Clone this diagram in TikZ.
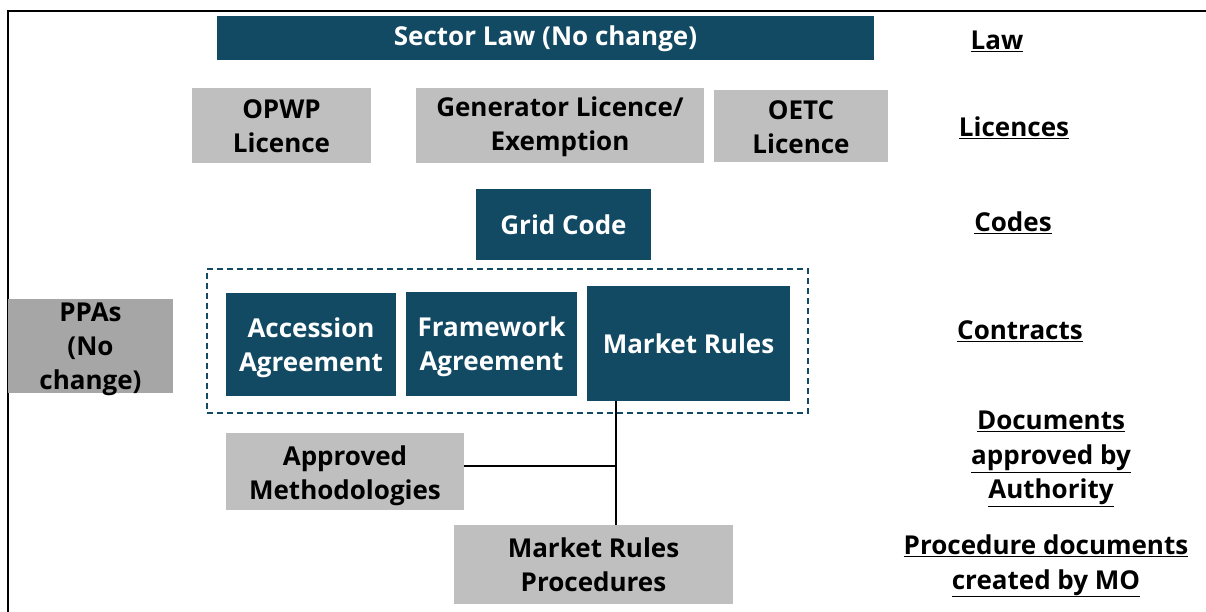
\documentclass[tikz,border=0pt]{standalone}
\usepackage{fontspec}
\setmainfont{Open Sans}[UprightFont=* Bold]
\definecolor{teal1}{HTML}{134A63}
\definecolor{grayA}{HTML}{BFBFBF}
\definecolor{grayB}{HTML}{A6A6A6}
\begin{document}
\begin{tikzpicture}[x=1pt,y=-1pt,
  box/.style={rectangle, inner sep=0pt},
  txt/.style={align=center, inner sep=0pt, font=\fontsize{26}{34}\selectfont, yshift=-3pt},
  wtxt/.style={txt, text=white},
  darkbox/.style={box, fill=teal1},
  graybox/.style={box, fill=grayA},
  ppabox/.style={box, fill=grayB},
  lvl/.style={align=center, inner sep=0pt, font=\fontsize{26}{34.5}\selectfont},
  conn/.style={draw=black, line width=1.3pt}]
\useasboundingbox (0,0) rectangle (1206,612);
\fill[white] (0,0) rectangle (1206,612);
\draw[line width=1.5pt] (8,612) -- (8,11) -- (1206,11);
\coordinate (j) at (616,466);
\node[darkbox, minimum width=657pt, minimum height=44pt, label={[wtxt, yshift=2pt]center:Sector Law (No change)}] (law) at (545.5,38) {};
\node[graybox, minimum width=179pt, minimum height=75pt, label={[txt, yshift=2pt]center:{OPWP\\Licence}}] (opwp) at (281.5,125.5) {};
\node[graybox, minimum width=288pt, minimum height=75pt, label={[txt, yshift=2pt]center:{Generator Licence/\\Exemption}}] (gen) at (560,125.5) {};
\node[graybox, minimum width=174pt, minimum height=72pt, label={[txt, yshift=2pt]center:{OETC\\Licence}}] (oetc) at (801,126) {};
\node[darkbox, minimum width=175pt, minimum height=71pt, label={[wtxt, yshift=3pt]center:Grid Code}] (grid) at (563.5,224.5) {};
\node[draw=teal1, dashed, dash pattern=on 6pt off 4pt, line width=1.5pt, minimum width=601pt, minimum height=144pt, inner sep=0pt] (dash) at (507.5,341) {};
\node[darkbox, minimum width=170pt, minimum height=103pt, label={[wtxt]center:{Accession\\Agreement}}] (acc) at (311,344.5) {};
\node[darkbox, minimum width=171pt, minimum height=104pt, label={[wtxt]center:{Framework\\Agreement}}] (fw) at (491.5,344) {};
\node[darkbox, minimum width=203pt, minimum height=115pt, label={[wtxt, yshift=3pt]center:Market Rules}] (mr) at (688.5,343.5) {};
\node[ppabox, minimum width=165pt, minimum height=94pt, label={[txt]center:{PPAs\\(No\\change)}}] (ppa) at (90.5,346) {};
\node[graybox, minimum width=238pt, minimum height=77pt, label={[txt, yshift=-1pt]center:{Approved\\Methodologies}}] (am) at (345,471.5) {};
\node[graybox, minimum width=279pt, minimum height=79pt, label={[txt, yshift=3pt]center:{Market Rules\\Procedures}}] (mrp) at (593.5,564.5) {};
\draw[conn] (mr.south -| j) -- (mrp.north -| j);
\draw[conn] (am.east |- j) -- (j);
% level labels
\node[lvl] (l1) at (997,41) {\underline{Law}};
\node[lvl] (l2) at (1014,128) {\underline{Licences}};
\node[lvl] (l3) at (1013,223) {\underline{Codes}};
\node[lvl] (l4) at (1020,331) {\underline{Contracts}};
\node[lvl] (l5) at (1051,459) {\underline{Documents}\\\underline{approved by}\\\underline{Authority}};
\node[lvl] (l6) at (1046,566) {\underline{Procedure documents}\\\underline{created by MO}};
\end{tikzpicture}
\end{document}
